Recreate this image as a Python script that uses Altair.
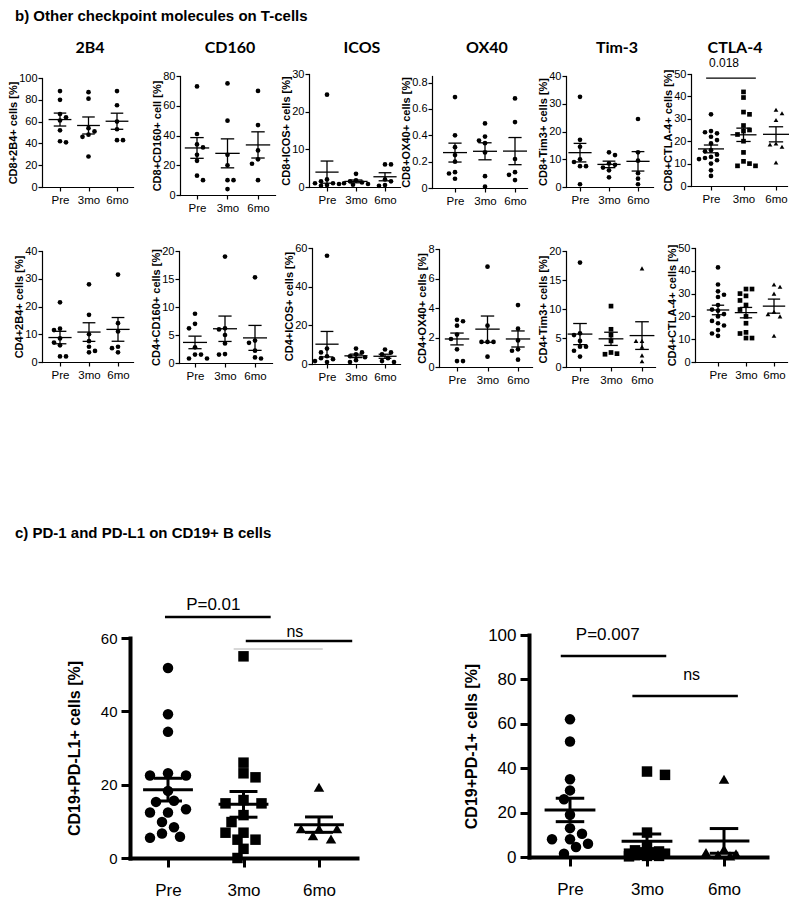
import altair as alt
import pandas as pd

W, H, M = 784, 896, 8
FONT = "Liberation Sans, Arial, sans-serif"
HEAD_FONT = "Lato, Open Sans, sans-serif"

GROUPS = ["Pre", "3mo", "6mo"]
SHAPES = ["circle", "square", "triangle-up"]

SECTION_B = "b) Other checkpoint molecules on T-cells"
SECTION_C = "c) PD-1 and PD-L1 on CD19+ B cells"
HEADS = ["2B4", "CD160", "ICOS", "OX40", "Tim-3", "CTLA-4"]

# ---- CD8 row (values per group: Pre, 3mo, 6mo) ----
CD8_2B4 = [[88, 80, 67, 64, 61, 52, 41, 42], [87, 81, 54, 51, 48, 46, 28], [88, 75, 60, 53, 43, 43]]
CD8_CD160 = [[73, 41, 34, 32, 27, 23, 13, 10], [75, 50, 27, 20, 10, 10, 4], [70, 47, 30, 24, 21, 10]]
CD8_ICOS = [[24.5, 2, 1.5, 1, 1, 0.8, 0.5, 0.3], [3.5, 1.8, 1.5, 1.2, 1.0, 0.8, 0.6], [6, 6, 2, 1.5, 0.5, 0.3]]
CD8_OX40 = [[0.69, 0.40, 0.31, 0.25, 0.20, 0.12, 0.11, 0.07], [0.49, 0.39, 0.36, 0.34, 0.27, 0.09, 0.01],
            [0.68, 0.50, 0.22, 0.12, 0.10, 0.06]]
CD8_TIM3 = [[32.5, 17, 14.5, 10, 9, 7.5, 7.5, 1], [12.5, 11.5, 8.5, 8, 7, 6, 3.5], [24.5, 12.5, 9.5, 5, 3, 1]]
CD8_CTLA4 = [[32, 24.5, 24, 23.5, 22, 20.5, 19, 16, 15.5, 14, 13, 12.5, 12, 11.5, 10, 7, 4.5],
             [42, 39.5, 33, 32, 27, 25, 24.5, 23, 20, 15, 11, 10, 9, 9],
             [34, 32.5, 29.5, 19, 18.5, 17.5, 10.5]]

# ---- CD4 row ----
CD4_2B4 = [[21.5, 12, 11.5, 8.5, 7, 6, 2, 2], [28, 17, 10, 7.5, 5.5, 4, 3.5], [31.5, 14, 11, 5.5, 5, 3.5]]
CD4_CD160 = [[8.8, 7, 6.2, 2.8, 1.5, 1.5, 0.8, 0.8], [19, 6.2, 6, 5, 3.5, 1.6, 1.5], [15.3, 4, 3.6, 2.2, 1, 0.8]]
CD4_ICOS = [[56, 8, 6, 4, 3, 2.5, 1.5, 1], [8, 6, 5, 4, 3.5, 2, 1], [7.5, 6, 5, 3, 1.5, 1]]
CD4_OX40 = [[3.2, 3.1, 2.8, 2.2, 1.9, 1.2, 0.4, 0.4], [6.8, 2.8, 1.7, 1.7, 1.7, 0.7], [4.2, 2.6, 1.8, 1.2, 1.1, 0.5]]
CD4_TIM3 = [[18, 5.8, 5.5, 4.5, 3.5, 3.5, 2.8, 1.8], [10.5, 6.5, 5.5, 4.5, 2.5, 2.3, 2.2], [17, 4.5, 4.5, 3.5, 2, 1]]
CD4_CTLA4 = [[41.5, 34, 31, 29.5, 28.5, 25, 23, 22.5, 21, 20, 18, 17, 16, 14, 12.5, 11.5],
             [32, 32, 30, 29, 27, 25, 23, 20, 17, 13, 12.5, 10.5, 10.5],
             [34, 33, 30, 22, 21, 20, 11.5]]

# ---- B cells ----
B_PDL1 = [[51.8, 39.2, 34.4, 23.1, 22.5, 22.5, 18.3, 15.6, 15.3, 13.3, 12.4, 12.4, 9.8, 8.4, 6.7, 5.8, 5.5],
          [55, 26, 23.1, 22, 15.8, 14.9, 14.9, 11.7, 9.8, 6.9, 6.9, 5, 5, 2.5, 0],
          [19.3, 8, 8, 8, 6.1, 5.2]]
B_PD1 = [[62, 52, 35, 30, 26, 19, 13, 10.5, 8, 8, 6, 4.5, 1.5],
         [38.5, 37, 11, 5, 3, 2.5, 2, 1.5, 1.5, 1, 1, 0.8, 0.5, 0.5, 0.3],
         [35, 3.5, 2, 1.5, 1, 0.5]]

# significance annotations (x in group units, y in data units)
CTLA4_SIG = dict(lines=[(0.85, 2.38, 48.2, "black", 1.3)], texts=[("0.018", 1.4, 54.9, 12)])
PDL1_SIG = dict(lines=[(0.96, 2.36, 65.7, "black", 2.5), (2.03, 3.44, 59.2, "black", 2.5),
                       (1.87, 3.05, 57.0, "#b0b0b0", 1)],
                texts=[("P=0.01", 1.6, 69, 17), ("ns", 2.68, 61.6, 16)])
PD1_SIG = dict(lines=[(0.88, 2.25, 90.5, "black", 2.5), (1.81, 3.18, 72.5, "black", 2.5)],
               texts=[("P=0.007", 1.49, 100, 17), ("ns", 2.58, 82, 16)])

SMALL = dict(size=22, lw=1.3, mw=0.4, cw=0.22, lab=11, xlab=11.5, tit=11, tick=4, tickw=1.2, dom=1.2,
             lpad=1, xlpad=3, tpad=0, dx=5.5, dy=5.5, step=3, maxoff=12)
BIG = dict(size=110, lw=3, mw=0.33, cw=0.185, lab=15, xlab=17, tit=16, tick=9, tickw=3, dom=4,
           lpad=4, xlpad=15, tpad=18, dx=13, dy=10, step=6, maxoff=22)

CIRC = ("circle", "circle", "circle")
MIX = tuple(SHAPES)

# geometry in page pixels: axis x, y at 0, y at top, y max, ticks, x of Pre, group spacing, x end
PANELS = [
    dict(vals=CD8_2B4, yt="CD8+2B4+ cells [%]", ax=42, y0=187, yt_px=78, ymax=100, ticks=[0, 20, 40, 60, 80, 100],
         pre=60, sp=28.5, xend=133, shapes=CIRC, st=SMALL, head=0, hx=90),
    dict(vals=CD8_CD160, yt="CD8+CD160+ cell [%]", ax=180, y0=195, yt_px=76, ymax=80, ticks=[0, 20, 40, 60, 80],
         pre=197, sp=30.5, xend=275, shapes=CIRC, st=SMALL, head=1, hx=230),
    dict(vals=CD8_ICOS, yt="CD8+ICOS+ cells [%]", ax=309, y0=187, yt_px=74, ymax=30, ticks=[0, 10, 20, 30],
         pre=327, sp=29, xend=400, shapes=CIRC, st=SMALL, head=2, hx=362),
    dict(vals=CD8_OX40, yt="CD8+OX40+ cells [%]", ax=432, y0=188, yt_px=76, ymax=0.85, ticks=[0, 0.2, 0.4, 0.6, 0.8],
         pre=455, sp=30, xend=527, shapes=CIRC, st=SMALL, head=3, hx=487),
    dict(vals=CD8_TIM3, yt="CD8+Tim3+ cells [%]", ax=566, y0=187, yt_px=76, ymax=40, ticks=[0, 10, 20, 30, 40],
         pre=580, sp=29, xend=653, shapes=CIRC, st=SMALL, head=4, hx=617),
    dict(vals=CD8_CTLA4, yt="CD8+CTLA-4+ cells [%]", ax=691, y0=186, yt_px=74, ymax=50, ticks=[0, 10, 20, 30, 40, 50],
         pre=711, sp=32.5, xend=787, shapes=MIX, st=SMALL, head=5, hx=735, sig=CTLA4_SIG),
    dict(vals=CD4_2B4, yt="CD4+2B4+ cells [%]", ax=42, y0=362, yt_px=251, ymax=40, ticks=[0, 10, 20, 30, 40],
         pre=60, sp=29, xend=133, shapes=CIRC, st=SMALL),
    dict(vals=CD4_CD160, yt="CD4+CD160+ cells [%]", ax=179, y0=363, yt_px=251, ymax=20, ticks=[0, 5, 10, 15, 20],
         pre=195, sp=30, xend=272, shapes=CIRC, st=SMALL),
    dict(vals=CD4_ICOS, yt="CD4+ICOS+ cells [%]", ax=312, y0=364, yt_px=248, ymax=60, ticks=[0, 20, 40, 60],
         pre=327, sp=29, xend=400, shapes=CIRC, st=SMALL),
    dict(vals=CD4_OX40, yt="CD4+OX40+ cells [%]", ax=439, y0=367, yt_px=249, ymax=8, ticks=[0, 2, 4, 6, 8],
         pre=457, sp=30.5, xend=532, shapes=CIRC, st=SMALL),
    dict(vals=CD4_TIM3, yt="CD4+Tim3+ cells [%]", ax=566, y0=367, yt_px=251, ymax=20, ticks=[0, 5, 10, 15, 20],
         pre=580, sp=31, xend=655, shapes=MIX, st=SMALL),
    dict(vals=CD4_CTLA4, yt="CD4+CTLA-4+ cells [%]", ax=695, y0=362, yt_px=248, ymax=50, ticks=[0, 10, 20, 30, 40, 50],
         pre=718, sp=28, xend=787, shapes=MIX, st=SMALL),
    dict(vals=B_PDL1, yt="CD19+PD-L1+ cells [%]", ax=130, y0=858, yt_px=638, ymax=60, ticks=[0, 20, 40, 60],
         pre=168, sp=75.5, xend=357, shapes=MIX, st=dict(BIG, lab=15, tpad=18), sig=PDL1_SIG),
    dict(vals=B_PD1, yt="CD19+PD-1+ cells [%]", ax=529, y0=857, yt_px=635, ymax=100, ticks=[0, 20, 40, 60, 80, 100],
         pre=570, sp=77, xend=767, shapes=MIX, st=dict(BIG, lab=17, tpad=8), sig=PD1_SIG),
]

LABEL_EXPR = "[" + ",".join("'" + s + "'" for s in [""] + GROUPS) + "][datum.value]"


def swarm(vals, ppu, sp, dx, dy, step, maxoff):
    """Deterministic beeswarm layout (horizontal spread of overlapping points), limited width."""
    order = sorted(range(len(vals)), key=lambda i: -vals[i])
    placed, offs = [], [0.0] * len(vals)
    for k, i in enumerate(order):
        y = vals[i] * ppu
        cands = [0.0]
        n = 1
        while n * step <= maxoff + 1e-9:
            cands += [n * step, -n * step] if k % 2 else [-n * step, n * step]
            n += 1
        best, bestd = 0.0, -1.0
        for c in cands:
            d = min((((c - px) / dx) ** 2 + ((y - py) / dy) ** 2 for px, py in placed), default=9.0)
            if d >= 1.0:
                best = c
                break
            if d > bestd + 1e-9:
                bestd, best = d, c
        placed.append((best, y))
        offs[i] = best / sp
    return offs


def build(p):
    st = p["st"]
    ppu = (p["y0"] - p["yt_px"]) / p["ymax"]
    rows = []
    for gi, vals in enumerate(p["vals"]):
        offs = swarm(vals, ppu, p["sp"], st["dx"], st["dy"], st["step"], st["maxoff"])
        for v, o in zip(vals, offs):
            rows.append(dict(g=gi + 1, x=gi + 1 + o, v=v, shp=p["shapes"][gi]))
    df = pd.DataFrame(rows)

    d0 = 1 - (p["pre"] - p["ax"]) / p["sp"]
    d1 = 1 + (p["xend"] - p["pre"]) / p["sp"]
    xs = alt.Scale(domain=[d0, d1], range=[p["ax"] - M, p["xend"] - M], nice=False, zero=False)
    ys = alt.Scale(domain=[0, p["ymax"]], range=[p["y0"] - M, p["yt_px"] - M], nice=False, zero=False)
    common = dict(grid=False, domainColor="black", domainWidth=st["dom"], tickColor="black",
                  tickWidth=st["tickw"], tickSize=st["tick"], labelColor="black", labelFont=FONT,
                  labelOverlap=False, labelFlush=False, domainCap="square")
    xa = alt.Axis(orient="bottom", offset=float(p["y0"] - M - H), values=[1, 2, 3], labelExpr=LABEL_EXPR,
                  title=None, labelFontSize=st["xlab"], labelPadding=st["xlpad"], labelAngle=0, **common)
    ya = alt.Axis(orient="left", offset=float(-(p["ax"] - M)), values=p["ticks"], format=".1~f", title=p["yt"],
                  titleFont=FONT, titleFontSize=st["tit"], titleFontWeight="bold", titleColor="black",
                  titlePadding=st["tpad"], labelFontSize=st["lab"], labelPadding=st["lpad"], **common)

    def X(f):
        return alt.X(f"{f}:Q", scale=xs, axis=xa)

    def Y(f):
        return alt.Y(f"{f}:Q", scale=ys, axis=ya)

    base = alt.Chart(df)
    pts = base.mark_point(filled=True, color="black", opacity=1, size=st["size"], strokeWidth=0).encode(
        x=X("x"), y=Y("v"),
        shape=alt.Shape("shp:N", scale=alt.Scale(domain=SHAPES, range=SHAPES), legend=None))
    stats = base.transform_aggregate(m="mean(v)", s="stderr(v)", groupby=["g"]).transform_calculate(
        lo="datum.m - datum.s", hi="datum.m + datum.s",
        ml=f"datum.g - {st['mw']}", mr=f"datum.g + {st['mw']}",
        cl=f"datum.g - {st['cw']}", cr=f"datum.g + {st['cw']}")
    rule = dict(color="black", strokeWidth=st["lw"])
    sem = stats.mark_rule(**rule).encode(x=X("g"), y=Y("lo"), y2="hi:Q")
    mean = stats.mark_rule(**rule).encode(x=X("ml"), x2="mr:Q", y=Y("m"))
    clo = stats.mark_rule(**rule).encode(x=X("cl"), x2="cr:Q", y=Y("lo"))
    chi = stats.mark_rule(**rule).encode(x=X("cl"), x2="cr:Q", y=Y("hi"))
    layers = [pts, sem, mean, clo, chi]

    if "sig" in p:
        for (x1, x2, yv, col, lw) in p["sig"]["lines"]:
            ldf = pd.DataFrame([dict(x1=x1, x2=x2, y=yv)])
            layers.append(alt.Chart(ldf).mark_rule(color=col, strokeWidth=lw).encode(
                x=X("x1"), x2="x2:Q", y=Y("y")))
        for (t, tx, ty, fs) in p["sig"]["texts"]:
            tdf = pd.DataFrame([dict(t=t, tx=tx, ty=ty)])
            layers.append(alt.Chart(tdf).mark_text(font=FONT, fontSize=fs, color="black",
                                                   baseline="middle", align="center").encode(
                x=X("tx"), y=Y("ty"), text="t:N"))
    if "head" in p:
        hdf = pd.DataFrame([dict(t=HEADS[p["head"]])])
        layers.append(alt.Chart(hdf).mark_text(font=HEAD_FONT, fontSize=16, fontWeight="bold", color="black",
                                               baseline="middle", align="center").encode(
            x=alt.value(p["hx"] - M), y=alt.value(48 - M), text="t:N"))
    return alt.layer(*layers)


panels = [build(p) for p in PANELS]

sec_b = alt.Chart(pd.DataFrame([dict(t=SECTION_B)])).mark_text(
    font=FONT, fontSize=15, fontWeight="bold", color="black", align="left", baseline="middle").encode(
    x=alt.value(15 - M), y=alt.value(16 - M), text="t:N")
sec_c = alt.Chart(pd.DataFrame([dict(t=SECTION_C)])).mark_text(
    font=FONT, fontSize=15, fontWeight="bold", color="black", align="left", baseline="middle").encode(
    x=alt.value(15 - M), y=alt.value(533 - M), text="t:N")

chart = alt.layer(*panels, sec_b, sec_c).resolve_scale(
    x="independent", y="independent"
).properties(
    width=W, height=H, autosize=alt.AutoSizeParams(type="none"), padding=0
).configure_view(stroke=None)

chart.save("out.html", embed_options={"renderer": "svg", "actions": False})
